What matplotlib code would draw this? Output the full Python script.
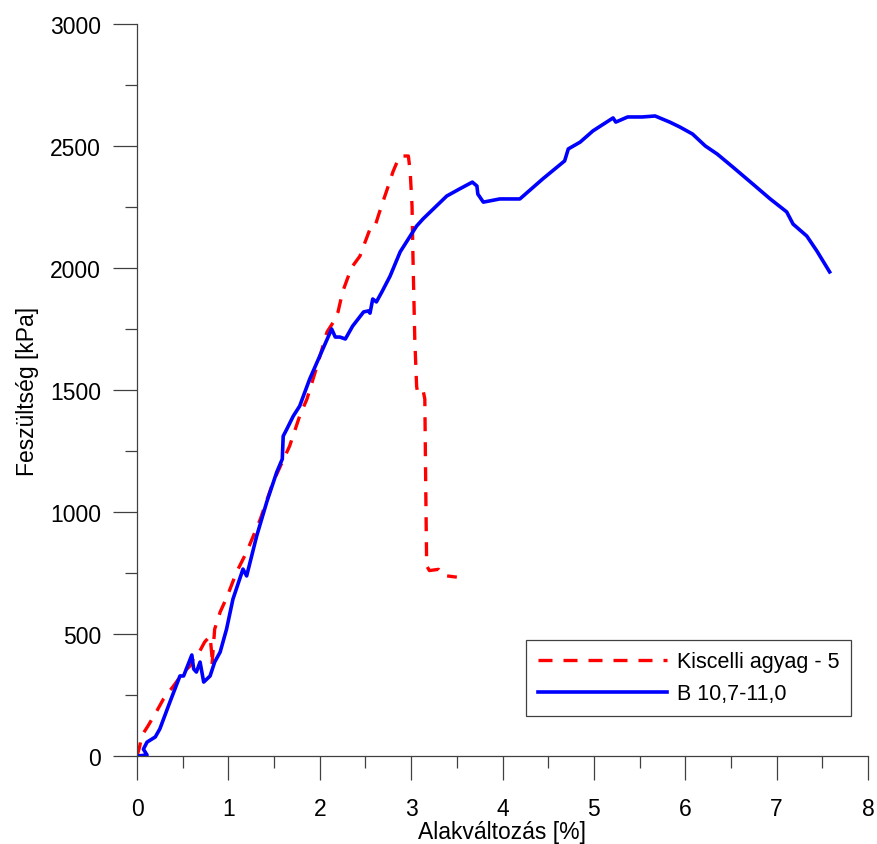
import matplotlib
matplotlib.use("Agg")
import matplotlib.pyplot as plt
from matplotlib.ticker import MultipleLocator

# Kiscelli agyag - 5 (red, dashed)
red_strain = [0.00, 0.03, 0.05, 0.12, 0.21, 0.29, 0.40, 0.51, 0.58, 0.63, 0.67,
              0.74, 0.80, 0.82, 0.82, 0.85, 0.91, 0.985, 1.09, 1.20, 1.35, 1.49,
              1.59, 1.67, 1.78, 1.86, 1.97, 2.08, 2.15, 2.20, 2.25, 2.33, 2.36,
              2.44, 2.48, 2.55, 2.60, 2.64, 2.69, 2.75, 2.80, 2.86, 2.88, 2.97,
              2.99, 3.01, 3.02, 3.04, 3.06, 3.07, 3.13, 3.15, 3.16, 3.17, 3.20,
              3.30, 3.35, 3.50]
red_stress = [0, 40, 82, 123, 180, 234, 287, 344, 369, 410, 418,
              467, 492, 410, 369, 520, 590, 652, 754, 836, 971, 1123,
              1205, 1270, 1393, 1463, 1598, 1738, 1779, 1820, 1902, 1984, 2008,
              2049, 2090, 2160, 2165, 2213, 2270, 2336, 2393, 2447, 2459, 2459,
              2393, 2254, 2049, 1709, 1516, 1490, 1500, 1463, 1100, 779, 760,
              765, 740, 733]

# B 10,7-11,0 (blue, solid)
blue_strain = [0.00, 0.11, 0.07, 0.11, 0.20, 0.25, 0.36, 0.47, 0.51, 0.60, 0.62,
               0.65, 0.69, 0.73, 0.80, 0.85, 0.91, 0.98, 1.05, 1.16, 1.20, 1.31,
               1.42, 1.53, 1.59, 1.60, 1.64, 1.71, 1.78, 1.89, 2.00, 2.13, 2.17,
               2.22, 2.28, 2.36, 2.48, 2.53, 2.55, 2.58, 2.62, 2.68, 2.77, 2.88,
               2.99, 3.06, 3.13, 3.21, 3.39, 3.53, 3.67, 3.72, 3.73, 3.79, 3.86,
               3.97, 4.19, 4.44, 4.68, 4.72, 4.85, 4.99, 5.21, 5.24, 5.37, 5.53,
               5.67, 5.83, 5.94, 6.08, 6.22, 6.35, 6.52, 6.74, 6.93, 7.11, 7.18,
               7.33, 7.44, 7.58]
blue_stress = [0, 4, 28, 57, 78, 111, 221, 328, 328, 414, 357,
               344, 385, 303, 328, 385, 426, 520, 643, 766, 738, 902,
               1041, 1164, 1217, 1311, 1340, 1393, 1434, 1545, 1639, 1750, 1717,
               1717, 1709, 1762, 1820, 1824, 1815, 1873, 1861, 1902, 1967, 2066,
               2131, 2172, 2201, 2230, 2295, 2324, 2352, 2336, 2303, 2270, 2275,
               2283, 2283, 2365, 2439, 2488, 2516, 2562, 2615, 2598, 2619, 2619,
               2623, 2598, 2578, 2549, 2500, 2467, 2414, 2344, 2283, 2230, 2180,
               2131, 2070, 1984]

plt.rcParams['font.family'] = ['Liberation Sans', 'DejaVu Sans']

fig = plt.figure(figsize=(8.77, 8.45), dpi=100)
ax = fig.add_axes([137 / 877, 88 / 845, 731 / 877, 732 / 845])

ax.plot(red_strain, red_stress, color='#ff0000', lw=2.4,
        ls=(0, (4.2, 3.3)), label='Kiscelli agyag - 5')
ax.plot(blue_strain, blue_stress, color='#0000ff', lw=2.6,
        label='B 10,7-11,0')

ax.set_xlim(0, 8)
ax.set_ylim(0, 3000)
ax.xaxis.set_major_locator(MultipleLocator(1))
ax.xaxis.set_minor_locator(MultipleLocator(0.5))
ax.yaxis.set_major_locator(MultipleLocator(500))
ax.yaxis.set_minor_locator(MultipleLocator(250))

for s in ['top', 'right']:
    ax.spines[s].set_visible(False)
for s in ['left', 'bottom']:
    ax.spines[s].set_color('#404040')
    ax.spines[s].set_linewidth(0.9)

ax.tick_params(which='major', length=17, width=0.9, color='#404040',
               labelsize=16.5)
ax.tick_params(which='minor', length=8.5, width=0.9, color='#404040')
ax.tick_params(axis='x', which='major', pad=12.5)
ax.tick_params(axis='y', which='major', pad=9)

ax.set_xlabel('Alakváltozás [%]', fontsize=16.5, labelpad=0)
ax.set_ylabel('Feszültség [kPa]', fontsize=16.5, labelpad=8)

leg = ax.legend(loc='lower right', bbox_to_anchor=(0.977, 0.0546),
                fontsize=15.5, handlelength=6.0, handletextpad=0.45,
                borderpad=0.55, labelspacing=0.5, fancybox=False,
                framealpha=1, edgecolor='#404040', borderaxespad=0)
leg.get_frame().set_linewidth(0.9)

fig.savefig('out.png', dpi=100)
